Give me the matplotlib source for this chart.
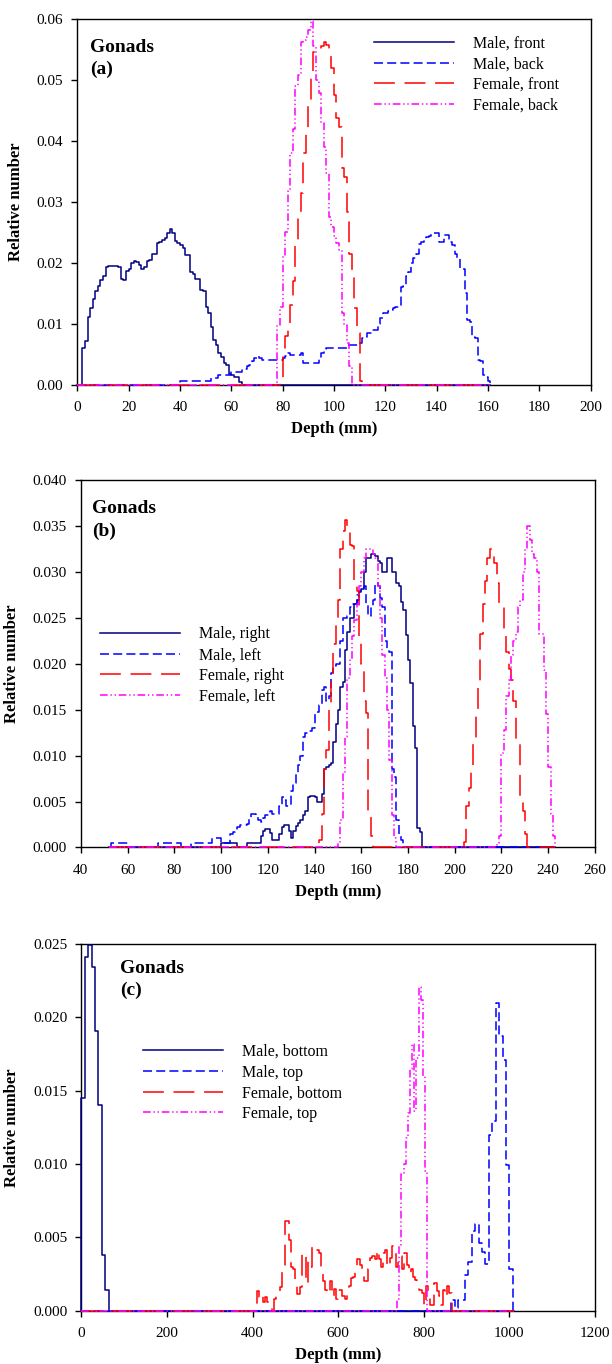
"""Depth distribution of gonad dose, three stacked panels"""
import numpy as np
import matplotlib
matplotlib.use("Agg")
import matplotlib.pyplot as plt
from matplotlib.ticker import FormatStrFormatter, MultipleLocator

plt.rcParams['font.family'] = 'Liberation Serif'
plt.rcParams['lines.scale_dashes'] = False

# ---------------------------------------------------------------- data
# Each series: first bin edge [mm], bin width [mm], relative numbers per bin

# Panel (a): front / back
a_male_front_start, a_male_front_width = 2, 1
a_male_front = [0.0060, 0.0071, 0.0110, 0.0126, 0.0141, 0.0153, 0.0162, 0.0172, 0.0178, 0.0193,
                0.0194, 0.0194, 0.0194, 0.0194, 0.0193, 0.0174, 0.0171, 0.0186, 0.0189, 0.0199,
                0.0203, 0.0201, 0.0196, 0.0189, 0.0193, 0.0203, 0.0204, 0.0214, 0.0214, 0.0233,
                0.0234, 0.0237, 0.0240, 0.0248, 0.0255, 0.0248, 0.0235, 0.0232, 0.0229, 0.0224,
                0.0213, 0.0213, 0.0185, 0.0182, 0.0173, 0.0173, 0.0155, 0.0154, 0.0128, 0.0117,
                0.0095, 0.0073, 0.0065, 0.0051, 0.0045, 0.0035, 0.0032, 0.0018, 0.0015, 0.0013,
                0.0013, 0.0004]

a_male_back_start, a_male_back_width = 40, 1
a_male_back = [0.0005, 0.0005, 0.0005, 0.0005, 0.0005, 0.0005, 0.0005, 0.0005, 0.0005, 0.0005,
               0.0005, 0.0005, 0.0010, 0.0010, 0.0010, 0.0015, 0.0015, 0.0015, 0.0015, 0.0016,
               0.0020, 0.0020, 0.0021, 0.0021, 0.0025, 0.0025, 0.0030, 0.0032, 0.0038, 0.0043,
               0.0046, 0.0043, 0.0041, 0.0041, 0.0041, 0.0041, 0.0041, 0.0041, 0.0041, 0.0041,
               0.0043, 0.0046, 0.0051, 0.0048, 0.0048, 0.0049, 0.0049, 0.0051, 0.0035, 0.0035,
               0.0035, 0.0035, 0.0035, 0.0035, 0.0043, 0.0052, 0.0059, 0.0060, 0.0060, 0.0060,
               0.0060, 0.0060, 0.0060, 0.0060, 0.0060, 0.0065, 0.0065, 0.0065, 0.0065, 0.0065,
               0.0068, 0.0076, 0.0078, 0.0084, 0.0084, 0.0089, 0.0089, 0.0100, 0.0109, 0.0117,
               0.0117, 0.0120, 0.0122, 0.0125, 0.0128, 0.0128, 0.0160, 0.0162, 0.0178, 0.0184,
               0.0199, 0.0207, 0.0215, 0.0231, 0.0234, 0.0238, 0.0242, 0.0244, 0.0248, 0.0249,
               0.0249, 0.0234, 0.0234, 0.0245, 0.0245, 0.0234, 0.0229, 0.0215, 0.0207, 0.0190,
               0.0190, 0.0150, 0.0106, 0.0103, 0.0078, 0.0076, 0.0040, 0.0038, 0.0016, 0.0013,
               0.0005]

a_female_front_start, a_female_front_width = 79, 1
a_female_front = [0.0005, 0.0045, 0.0080, 0.0095, 0.0130, 0.0170, 0.0237, 0.0275, 0.0315, 0.0380,
                  0.0418, 0.0462, 0.0505, 0.0545, 0.0548, 0.0552, 0.0555, 0.0562, 0.0558, 0.0545,
                  0.0520, 0.0475, 0.0437, 0.0423, 0.0355, 0.0340, 0.0283, 0.0215, 0.0175, 0.0125,
                  0.0085, 0.0005]

a_female_back_start, a_female_back_width = 78, 1
a_female_back = [0.0098, 0.0127, 0.0212, 0.0250, 0.0317, 0.0380, 0.0420, 0.0490, 0.0508, 0.0562,
                 0.0565, 0.0570, 0.0582, 0.0596, 0.0555, 0.0500, 0.0478, 0.0430, 0.0390, 0.0347,
                 0.0275, 0.0259, 0.0243, 0.0232, 0.0220, 0.0117, 0.0098, 0.0068, 0.0030]

# Panel (b): right / left
b_male_right_start, b_male_right_width = 100, 1
b_male_right = [0.0005, 0.0005, 0.0005, 0.0005, 0.0005, 0.0005, 0.0005, 0.0, 0.0, 0.0,
                0.0, 0.0005, 0.0005, 0.0005, 0.0005, 0.0005, 0.0005, 0.0013, 0.0018, 0.0020,
                0.0020, 0.0016, 0.0008, 0.0008, 0.0008, 0.0015, 0.0022, 0.0025, 0.0025, 0.0018,
                0.0010, 0.0018, 0.0023, 0.0027, 0.0030, 0.0035, 0.0040, 0.0055, 0.0056, 0.0056,
                0.0055, 0.0050, 0.0050, 0.0058, 0.0085, 0.0088, 0.0090, 0.0092, 0.0115, 0.0135,
                0.0150, 0.0175, 0.0180, 0.0215, 0.0235, 0.0250, 0.0250, 0.0265, 0.0270, 0.0278,
                0.0282, 0.0300, 0.0315, 0.0315, 0.0320, 0.0320, 0.0318, 0.0312, 0.0310, 0.0300,
                0.0300, 0.0315, 0.0315, 0.0300, 0.0300, 0.0288, 0.0285, 0.0268, 0.0259, 0.0231,
                0.0204, 0.0179, 0.0132, 0.0108, 0.0021, 0.0017]

b_male_left_start, b_male_left_width = 53, 1
b_male_left = [0.0005, 0.0005, 0.0005, 0.0005, 0.0005, 0.0005, 0.0005, 0.0, 0.0, 0.0,
               0.0, 0.0, 0.0, 0.0, 0.0, 0.0, 0.0, 0.0, 0.0, 0.0,
               0.0005, 0.0005, 0.0005, 0.0005, 0.0005, 0.0005, 0.0005, 0.0005, 0.0005, 0.0005,
               0.0, 0.0, 0.0, 0.0, 0.0005, 0.0005, 0.0005, 0.0005, 0.0005, 0.0005,
               0.0005, 0.0005, 0.0005, 0.0010, 0.0010, 0.0010, 0.0010, 0.0005, 0.0005, 0.0005,
               0.0005, 0.0015, 0.0017, 0.0019, 0.0022, 0.0024, 0.0025, 0.0025, 0.0026, 0.0032,
               0.0036, 0.0036, 0.0033, 0.0030, 0.0028, 0.0032, 0.0035, 0.0035, 0.0040, 0.0037,
               0.0036, 0.0036, 0.0045, 0.0055, 0.0052, 0.0045, 0.0045, 0.0062, 0.0070, 0.0080,
               0.0090, 0.0100, 0.0120, 0.0125, 0.0127, 0.0127, 0.0130, 0.0145, 0.0148, 0.0155,
               0.0172, 0.0175, 0.0160, 0.0165, 0.0190, 0.0198, 0.0200, 0.0200, 0.0225, 0.0250,
               0.0250, 0.0252, 0.0262, 0.0265, 0.0265, 0.0275, 0.0280, 0.0283, 0.0285, 0.0265,
               0.0252, 0.0262, 0.0270, 0.0288, 0.0285, 0.0272, 0.0262, 0.0225, 0.0215, 0.0213,
               0.0085, 0.0077, 0.0030, 0.0012, 0.0008]

b_female_right_start, b_female_right_width = 142, 1
b_female_right = [0.0008, 0.0037, 0.0085, 0.0106, 0.0150, 0.0180, 0.0222, 0.0245, 0.0270, 0.0325,
                  0.0345, 0.0357, 0.0350, 0.0330, 0.0328, 0.0285, 0.0280, 0.0225, 0.0200, 0.0160,
                  0.0146, 0.0035, 0.0012, 0.0, 0.0, 0.0, 0.0, 0.0, 0.0, 0.0,
                  0.0, 0.0, 0.0, 0.0, 0.0, 0.0, 0.0, 0.0, 0.0, 0.0,
                  0.0, 0.0, 0.0, 0.0, 0.0, 0.0, 0.0, 0.0, 0.0, 0.0,
                  0.0, 0.0, 0.0, 0.0, 0.0, 0.0, 0.0, 0.0, 0.0, 0.0,
                  0.0, 0.0, 0.0006, 0.0045, 0.0065, 0.0083, 0.0113, 0.0145, 0.0175, 0.0233,
                  0.0265, 0.0290, 0.0315, 0.0325, 0.0325, 0.0310, 0.0288, 0.0266, 0.0266, 0.0237,
                  0.0213, 0.0195, 0.0183, 0.0160, 0.0113, 0.0113, 0.0050, 0.0040, 0.0015]

b_female_left_start, b_female_left_width = 150, 1
b_female_left = [0.0005, 0.0030, 0.0081, 0.0120, 0.0185, 0.0205, 0.0230, 0.0248, 0.0265, 0.0285,
                 0.0300, 0.0315, 0.0325, 0.0325, 0.0325, 0.0320, 0.0315, 0.0285, 0.0250, 0.0210,
                 0.0185, 0.0150, 0.0095, 0.0035, 0.0010, 0.0, 0.0, 0.0, 0.0, 0.0,
                 0.0, 0.0, 0.0, 0.0, 0.0, 0.0, 0.0, 0.0, 0.0, 0.0,
                 0.0, 0.0, 0.0, 0.0, 0.0, 0.0, 0.0, 0.0, 0.0, 0.0,
                 0.0, 0.0, 0.0, 0.0, 0.0, 0.0, 0.0, 0.0, 0.0, 0.0,
                 0.0, 0.0, 0.0, 0.0, 0.0, 0.0, 0.0, 0.0, 0.0005, 0.0012,
                 0.0103, 0.0128, 0.0165, 0.0183, 0.0210, 0.0225, 0.0235, 0.0262, 0.0270, 0.0300,
                 0.0325, 0.0350, 0.0335, 0.0320, 0.0315, 0.0300, 0.0233, 0.0233, 0.0193, 0.0145,
                 0.0088, 0.0037, 0.0012]

# Panel (c): bottom / top
c_male_bottom_start, c_male_bottom_width = 0, 8
c_male_bottom = [0.0145, 0.0241, 0.0249, 0.0234, 0.0191, 0.0140, 0.0038, 0.0014]

c_male_top_start, c_male_top_width = 864, 8
c_male_top = [0.0007, 0.0002, 0.0007, 0.0007, 0.0024, 0.0033, 0.0054, 0.0059, 0.0046, 0.0040,
              0.0032, 0.0120, 0.0129, 0.0210, 0.0187, 0.0171, 0.0099, 0.0028]

c_female_bottom_start, c_female_bottom_width = 410, 5
c_female_bottom = [0.0013, 0.0009, 0.0011, 0.0006, 0.0009, 0.0006, 0.0003, 0.0000, 0.0008, 0.0011,
                   0.0012, 0.0016, 0.0027, 0.0061, 0.0061, 0.0048, 0.0030, 0.0028, 0.0020, 0.0011,
                   0.0016, 0.0039, 0.0039, 0.0018, 0.0034, 0.0030, 0.0044, 0.0042, 0.0041, 0.0039,
                   0.0028, 0.0020, 0.0014, 0.0011, 0.0020, 0.0009, 0.0015, 0.0008, 0.0014, 0.0014,
                   0.0010, 0.0008, 0.0015, 0.0017, 0.0022, 0.0023, 0.0030, 0.0035, 0.0031, 0.0025,
                   0.0020, 0.0020, 0.0028, 0.0036, 0.0037, 0.0035, 0.0041, 0.0035, 0.0030, 0.0039,
                   0.0041, 0.0030, 0.0036, 0.0044, 0.0039, 0.0030, 0.0034, 0.0037, 0.0028, 0.0039,
                   0.0031, 0.0025, 0.0028, 0.0023, 0.0021, 0.0020, 0.0014, 0.0012, 0.0003, 0.0017,
                   0.0009, 0.0004, 0.0004, 0.0019, 0.0013, 0.0010, 0.0004, 0.0014, 0.0009, 0.0017,
                   0.0012]

c_female_top_start, c_female_top_width = 738, 5
c_female_top = [0.0008, 0.0045, 0.0093, 0.0100, 0.0118, 0.0135, 0.0165, 0.0182, 0.0136, 0.0172,
                0.0221, 0.0212, 0.0160, 0.0095]

# ---------------------------------------------------------------- styles
NAVY = '#000080'
BLUE = '#0000ff'
RED = '#ff0000'
MAGENTA = '#ff00ff'

STYLE_MALE_1 = dict(color=NAVY, linestyle='-')
STYLE_MALE_2 = dict(color=BLUE, dashes=(6.5, 3))
STYLE_FEMALE_1 = dict(color=RED, dashes=(15, 7))
STYLE_FEMALE_2 = dict(color=MAGENTA, dashes=(5.5, 2, 1, 2, 1, 2))

LW = 1.1


def step_xy(start, width, values, span):
    """Build a closed step outline from binned values, padded with a zero baseline over span"""
    edges = start + width * np.arange(len(values) + 1)
    x = np.concatenate([[span[0]], edges, [span[1]]])
    y = np.concatenate([[0.0], values, [0.0, 0.0]])
    return x, y


def draw_panel(ax, series, span, xlim, xstep, ylim, ystep, yfmt, tag, tag_pos, legend_anchor, ylabel_x):
    """Draw one panel of step curves with its labels and legend"""
    for label, start, width, values, style in series:
        x, y = step_xy(start, width, values, span)
        ax.plot(x, y, drawstyle='steps-post', lw=LW, label=label, zorder=3, clip_on=False, **style)

    ax.set_xlim(*xlim)
    ax.set_ylim(*ylim)
    ax.xaxis.set_major_locator(MultipleLocator(xstep))
    ax.yaxis.set_major_locator(MultipleLocator(ystep))
    ax.yaxis.set_major_formatter(FormatStrFormatter(yfmt))
    ax.tick_params(direction='out', length=4, width=1, labelsize=11)
    ax.tick_params(axis='x', pad=8)
    ax.tick_params(axis='y', pad=6)
    for spine in ax.spines.values():
        spine.set_linewidth(1.0)

    ax.set_ylabel('Relative number', fontsize=12, fontweight='bold')
    ax.yaxis.set_label_coords(ylabel_x, 0.5)
    ax.set_xlabel('Depth (mm)', fontsize=12, fontweight='bold', va='top')
    ax.xaxis.set_label_coords(0.5, -0.099)

    # Panel tag in the upper left corner
    ax.text(tag_pos[0], tag_pos[1], 'Gonads', transform=ax.transAxes,
            fontsize=14, fontweight='bold', va='baseline')
    ax.text(tag_pos[0], tag_pos[2], tag, transform=ax.transAxes,
            fontsize=14, fontweight='bold', va='baseline')

    ax.legend(loc='upper left', bbox_to_anchor=legend_anchor, frameon=False, fontsize=11.5,
              handlelength=5.0, handletextpad=1.2, labelspacing=0.3, borderpad=0, borderaxespad=0)


fig = plt.figure(figsize=(6.12, 13.64), dpi=100)

ax_a = fig.add_axes([0.1263, 0.7181, 0.8386, 0.2680])
ax_b = fig.add_axes([0.1320, 0.3787, 0.8402, 0.2691])
ax_c = fig.add_axes([0.1328, 0.0392, 0.8394, 0.2687])

draw_panel(ax_a,
           [('Male, front', a_male_front_start, a_male_front_width, a_male_front, STYLE_MALE_1),
            ('Male, back', a_male_back_start, a_male_back_width, a_male_back, STYLE_MALE_2),
            ('Female, front', a_female_front_start, a_female_front_width, a_female_front, STYLE_FEMALE_1),
            ('Female, back', a_female_back_start, a_female_back_width, a_female_back, STYLE_FEMALE_2)],
           span=(0, 161), xlim=(0, 200), xstep=20, ylim=(0, 0.06), ystep=0.01, yfmt='%.2f',
           tag='(a)', tag_pos=(0.0257, 0.9097, 0.8495), legend_anchor=(0.578, 0.955),
           ylabel_x=-0.104)

draw_panel(ax_b,
           [('Male, right', b_male_right_start, b_male_right_width, b_male_right, STYLE_MALE_1),
            ('Male, left', b_male_left_start, b_male_left_width, b_male_left, STYLE_MALE_2),
            ('Female, right', b_female_right_start, b_female_right_width, b_female_right, STYLE_FEMALE_1),
            ('Female, left', b_female_left_start, b_female_left_width, b_female_left, STYLE_FEMALE_2)],
           span=(52, 243), xlim=(40, 260), xstep=20, ylim=(0, 0.04), ystep=0.005, yfmt='%.3f',
           tag='(b)', tag_pos=(0.0212, 0.912, 0.8496), legend_anchor=(0.038, 0.602),
           ylabel_x=-0.119)

draw_panel(ax_c,
           [('Male, bottom', c_male_bottom_start, c_male_bottom_width, c_male_bottom, STYLE_MALE_1),
            ('Male, top', c_male_top_start, c_male_top_width, c_male_top, STYLE_MALE_2),
            ('Female, bottom', c_female_bottom_start, c_female_bottom_width, c_female_bottom, STYLE_FEMALE_1),
            ('Female, top', c_female_top_start, c_female_top_width, c_female_top, STYLE_FEMALE_2)],
           span=(0, 1010), xlim=(0, 1200), xstep=200, ylim=(0, 0.025), ystep=0.005, yfmt='%.3f',
           tag='(c)', tag_pos=(0.0757, 0.920, 0.860), legend_anchor=(0.121, 0.728),
           ylabel_x=-0.120)

fig.savefig('out.png', dpi=100)
